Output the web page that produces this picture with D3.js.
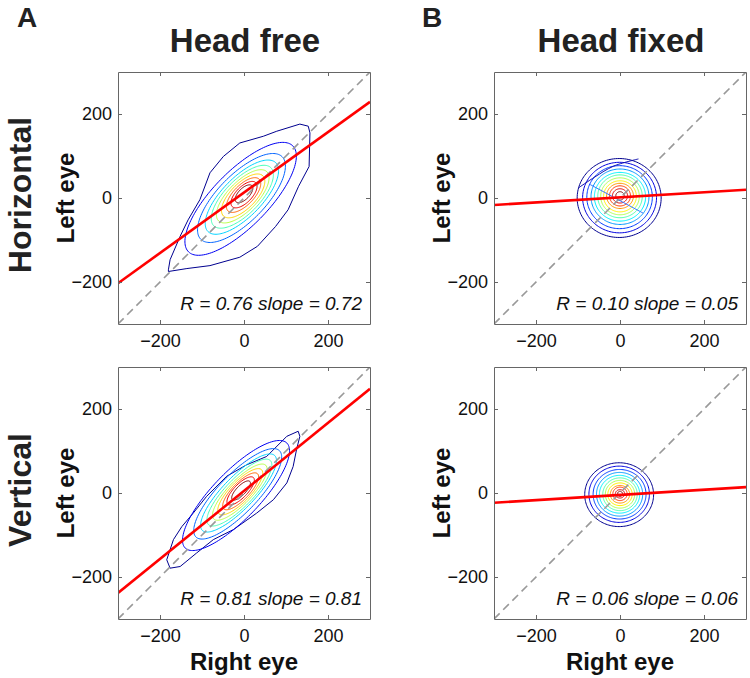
<!DOCTYPE html>
<html><head><meta charset="utf-8">
<script src="https://cdn.jsdelivr.net/npm/d3@7"></script>
<style>
body{margin:0;background:#fff}
svg{display:block}
text{font-family:"Liberation Sans",Arial,Helvetica,sans-serif}
</style>
</head><body>
<svg id="chart" width="750" height="678"></svg>
<script>
// ---------------- data ----------------
const columnTitles = ["Head free", "Head fixed"];
const panelLetters = ["A", "B"];
const rowTitles = ["Horizontal", "Vertical"];
const axisDomain = [-300, 300];
const tickValues = [-200, 0, 200];
const xLabel = "Right eye";
const yLabel = "Left eye";

// panels in order: free/horizontal, fixed/horizontal, free/vertical, fixed/vertical
const statsText = ["R = 0.76 slope = 0.72", "R = 0.10 slope = 0.05",
                   "R = 0.81 slope = 0.81", "R = 0.06 slope = 0.06"];
const fitSlopes = [0.72, 0.06, 0.81, 0.062];
const fitIntercepts = [13, 1.5, 5, -4.5];
const contourAngles = [45.5, 0, 46, 0];

// outermost density contours (read point by point), data units
const freeHOuter = [[-180,-171],[-176,-147],[-152,-91],[-133,-52],[-105,-4],[-81,60],[-49,99],
  [-10,131],[46,147],[78,159],[133,176],[153,171],[157,155],[155,75],[130,28],[105,-28],
  [75,-68],[32,-115],[-10,-141],[-81,-161],[-136,-168],[-180,-175]];
const freeVOuter = [[-184,-159],[-168,-111],[-148,-80],[-121,-48],[-89,-8],[-41,40],[6,67],
  [54,87],[102,135],[129,147],[133,135],[125,103],[117,63],[102,24],[70,-16],[30,-48],
  [-25,-87],[-73,-111],[-113,-143],[-152,-175],[-176,-179]];

// inner contour levels: [half-length, half-width, centre x, centre y], outer -> inner
const freeHLevels = [[177,66,-8,-2],[138,56,-6,0],[115,47,-5,2],[97,41,-4,3],[82,35,-3,4],
  [67,30,-2,5],[53,24,-1,7],[40,19,0,8],[27,13,0,10]];
const freeVLevels = [[174,56,-19,-6],[143,46,-15,-2],[124,38,-13,0],[106,33,-11,1],[89,28,-10,2],
  [73,24,-9,3],[58,20,-8,4],[44,16,-8,5],[30,11,-7,6]];
const fixHLevels = [[100,94,-2,0],[88,84,-1,1],[78,75,-1,2],[69,66,0,3],[61,58,0,3],[53,51,0,4],
  [46,44,0,4],[39,37,0,4],[32,30,0,5],[25,24,0,5],[18,17,0,5],[10,10,0,5]];
const fixVLevels = [[82,76,-2,-4],[72,67,-2,-3],[63,59,-1,-3],[55,52,-1,-3],[48,45,-1,-3],
  [41,39,0,-3],[35,33,0,-3],[29,27,0,-3],[23,21,0,-3],[17,16,0,-2],[11,10,0,-2],[6,6,0,-2]];
// stray contour segments in the fixed/horizontal panel
const fixHStray = [[[-99,24],[-60,50],[-15,76],[44,93]], [[-71,32],[55,-36]]];

// ---------------- layout ----------------
const svg = d3.select("#chart");
const font = '"Liberation Sans",Arial,Helvetica,sans-serif';
const size = 252;
const lefts = [118, 494];
const tops = [72, 367];

const jet = d3.scaleLinear()
  .domain([0, 0.125, 0.375, 0.625, 0.875, 1])
  .range(["#00008f", "#0000ff", "#00ffff", "#ffff00", "#ff0000", "#800000"])
  .interpolate(d3.interpolateRgb);

const levelSets = [freeHLevels, fixHLevels, freeVLevels, fixVLevels];
const outerSets = [freeHOuter, null, freeVOuter, null];

function ellipsePts(lv, angDeg) {
  const [a, b, cx, cy] = lv;
  const th = angDeg * Math.PI / 180;
  return d3.range(72).map(i => {
    const t = i / 72 * 2 * Math.PI;
    const u = a * Math.cos(t), v = b * Math.sin(t);
    return [cx + u * Math.cos(th) - v * Math.sin(th), cy + u * Math.sin(th) + v * Math.cos(th)];
  });
}

const defs = svg.append("defs");

for (let p = 0; p < 4; p++) {
  const col = p % 2, row = Math.floor(p / 2);
  const x0 = lefts[col], y0 = tops[row];
  const x = d3.scaleLinear().domain(axisDomain).range([x0, x0 + size]);
  const y = d3.scaleLinear().domain(axisDomain).range([y0 + size, y0]);

  defs.append("clipPath").attr("id", "clip" + p)
    .append("rect").attr("x", x0).attr("y", y0).attr("width", size).attr("height", size);

  const g = svg.append("g").attr("clip-path", `url(#clip${p})`);
  const line = d3.line().x(d => x(d[0])).y(d => y(d[1]));
  const closed = d3.line().x(d => x(d[0])).y(d => y(d[1])).curve(d3.curveCardinalClosed.tension(0.3));

  // contour shapes
  const shapes = [];
  if (outerSets[p]) shapes.push({pts: outerSets[p], explicit: true});
  levelSets[p].forEach(lv => shapes.push({pts: ellipsePts(lv, contourAngles[p]), explicit: false}));
  const n = shapes.length;
  shapes.forEach((s, i) => {
    g.append("path")
      .attr("d", s.explicit ? d3.line().x(d => x(d[0])).y(d => y(d[1])).curve(d3.curveLinearClosed)(s.pts) : closed(s.pts))
      .attr("fill", "none")
      .attr("stroke", jet(i / (n - 1)))
      .attr("stroke-width", 1);
  });
  if (p === 1) {
    fixHStray.forEach((seg, i) => {
      g.append("path").attr("d", line.curve(d3.curveCatmullRom)(seg))
        .attr("fill", "none").attr("stroke", i === 0 ? "#1010b0" : "#3c7cff").attr("stroke-width", 1);
    });
  }

  // identity line
  g.append("path").attr("d", d3.line().x(d => x(d[0])).y(d => y(d[1]))([[axisDomain[0], axisDomain[0]], [axisDomain[1], axisDomain[1]]]))
    .attr("stroke", "#999").attr("stroke-width", 1.6).attr("stroke-dasharray", "8,5").attr("fill", "none");

  // regression line
  const fx = axisDomain.map(v => [v, fitSlopes[p] * v + fitIntercepts[p]]);
  g.append("path").attr("d", d3.line().x(d => x(d[0])).y(d => y(d[1]))(fx))
    .attr("stroke", "#ff0000").attr("stroke-width", 2.6).attr("fill", "none");

  // axes (ticks inward on all four sides)
  const axes = [
    [d3.axisLeft(y).tickValues(tickValues).tickSize(-4).tickSizeOuter(0).tickPadding(6), `translate(${x0},0)`],
    [d3.axisBottom(x).tickValues(tickValues).tickSize(-4).tickSizeOuter(0).tickPadding(10), `translate(0,${y0 + size})`],
    [d3.axisRight(y).tickValues(tickValues).tickSize(-4).tickSizeOuter(0).tickFormat(""), `translate(${x0 + size},0)`],
    [d3.axisTop(x).tickValues(tickValues).tickSize(-4).tickSizeOuter(0).tickFormat(""), `translate(0,${y0})`]
  ];
  axes.forEach(([ax, tr]) => {
    const ag = svg.append("g").attr("transform", tr).call(ax);
    ag.selectAll("path,line").attr("stroke", "#666").attr("stroke-width", 1);
    ag.selectAll("text").attr("font-size", 18).attr("fill", "#111").attr("font-family", font);
  });

  // stats text
  svg.append("text").attr("x", x0 + size - 8).attr("y", y0 + 238)
    .attr("text-anchor", "end").attr("font-style", "italic").attr("font-size", 19)
    .attr("fill", "#111").text(statsText[p]);

  // y label
  svg.append("text")
    .attr("transform", `translate(${x0 - 44},${y0 + size / 2}) rotate(-90)`)
    .attr("text-anchor", "middle").attr("font-weight", "bold").attr("font-size", 24)
    .attr("fill", "#111").text(yLabel);

  // x label (bottom row only)
  if (row === 1) {
    svg.append("text").attr("x", x0 + size / 2).attr("y", 670)
      .attr("text-anchor", "middle").attr("font-weight", "bold").attr("font-size", 24)
      .attr("fill", "#111").text(xLabel);
  }
}

// column titles and panel letters
columnTitles.forEach((t, i) => {
  svg.append("text").attr("x", lefts[i] + size / 2 + 1).attr("y", 52)
    .attr("text-anchor", "middle").attr("font-weight", "bold").attr("font-size", 33)
    .attr("fill", "#222").text(t);
});
const letterX = [17, 422];
panelLetters.forEach((t, i) => {
  svg.append("text").attr("x", letterX[i]).attr("y", 27)
    .attr("font-weight", "bold").attr("font-size", 28).attr("fill", "#222").text(t);
});
// row titles
rowTitles.forEach((t, i) => {
  svg.append("text")
    .attr("transform", `translate(31,${tops[i] + size / 2 - 3}) rotate(-90)`)
    .attr("text-anchor", "middle").attr("font-weight", "bold").attr("font-size", 32)
    .attr("fill", "#222").text(t);
});
</script>
</body></html>
